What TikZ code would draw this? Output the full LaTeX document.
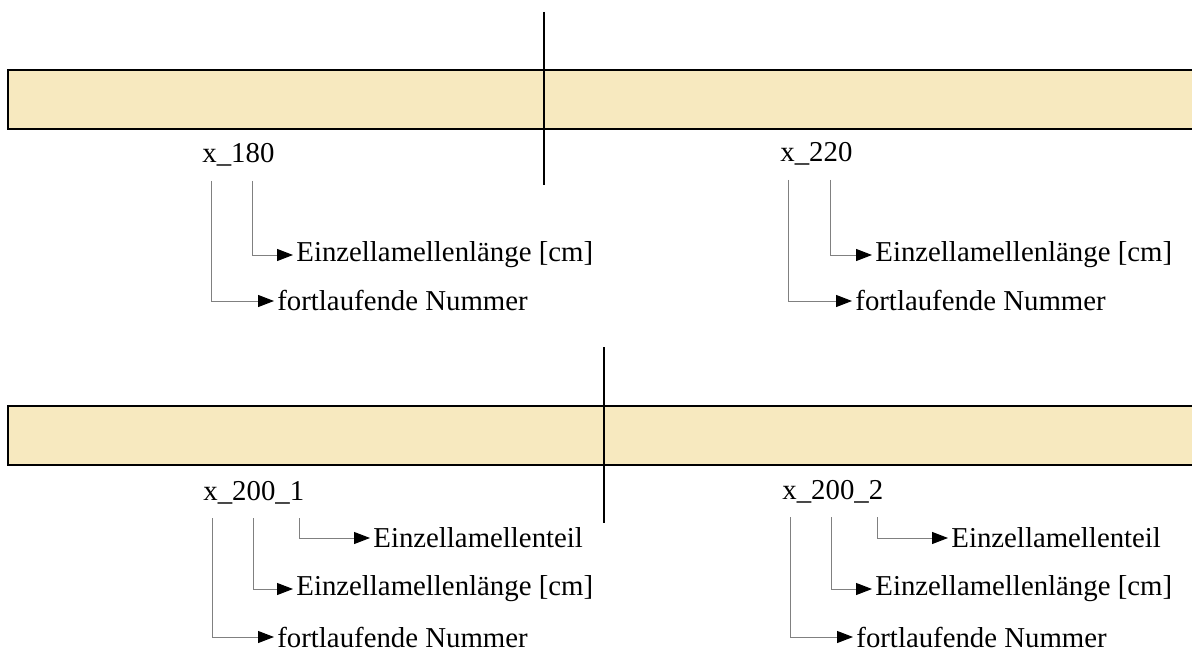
\documentclass[tikz,border=0pt]{standalone}
\usepackage{fontspec}
\setmainfont{Liberation Serif}
\usepackage{tikz}
\usetikzlibrary{arrows.meta}

\definecolor{lamelle}{RGB}{247,233,191}
\definecolor{leitung}{RGB}{128,128,128}

\begin{document}
\begin{tikzpicture}[x=0.5pt,y=-0.5pt,
  every node/.style={font=\fontsize{14.4}{17}\selectfont, inner sep=0pt},
  ziel/.style={anchor=west, inner xsep=1.5pt},
  ptr/.style={draw=leitung, line width=0.5pt, -{Triangle[length=8pt,width=6pt,black]}},
  trenn/.style={line width=0.8pt}]
  \useasboundingbox (0,0) rectangle (1192,652);

  % obere Lamelle
  \fill[lamelle] (8,70) rectangle (1192,129);
  \draw[line width=1pt] (1192,70) -- (8,70) -- (8,129) -- (1192,129);
  \draw[trenn] (544,12) -- (544,185);

  \draw (202,155)node[anchor=west](l180){x\_180};
  \draw (293,255)node[ziel](e180){Einzellamellenlänge [cm]};
  \draw (274,301)node[ziel](n180){fortlaufende Nummer};
  \draw[ptr] ([shift={(9,26)}]l180.west) |- (n180.west);
  \draw[ptr] ([shift={(50,26)}]l180.west) |- (e180.west);

  \draw (780,154)node[anchor=west](l220){x\_220};
  \draw (872,255)node[ziel](e220){Einzellamellenlänge [cm]};
  \draw (852,301)node[ziel](n220){fortlaufende Nummer};
  \draw[ptr] ([shift={(8,26)}]l220.west) |- (n220.west);
  \draw[ptr] ([shift={(50,26)}]l220.west) |- (e220.west);

  % untere Lamelle, geteilt
  \fill[lamelle] (8,406) rectangle (1192,465);
  \draw[line width=1pt] (1192,406) -- (8,406) -- (8,465) -- (1192,465);
  \draw[trenn] (604,347) -- (604,523);

  \draw (203,493)node[anchor=west](l2001){x\_200\_1};
  \draw (370,538)node[ziel](t2001){Einzellamellenteil};
  \draw (293,589)node[ziel](e2001){Einzellamellenlänge [cm]};
  \draw (274,637)node[ziel](n2001){fortlaufende Nummer};
  \draw[ptr] ([shift={(9,25)}]l2001.west) |- (n2001.west);
  \draw[ptr] ([shift={(50,25)}]l2001.west) |- (e2001.west);
  \draw[ptr] ([shift={(96,25)}]l2001.west) |- (t2001.west);

  \draw (782,492)node[anchor=west](l2002){x\_200\_2};
  \draw (948,538)node[ziel](t2002){Einzellamellenteil};
  \draw (872,589)node[ziel](e2002){Einzellamellenlänge [cm]};
  \draw (853,637)node[ziel](n2002){fortlaufende Nummer};
  \draw[ptr] ([shift={(8,25)}]l2002.west) |- (n2002.west);
  \draw[ptr] ([shift={(49,25)}]l2002.west) |- (e2002.west);
  \draw[ptr] ([shift={(95,25)}]l2002.west) |- (t2002.west);
\end{tikzpicture}
\end{document}
